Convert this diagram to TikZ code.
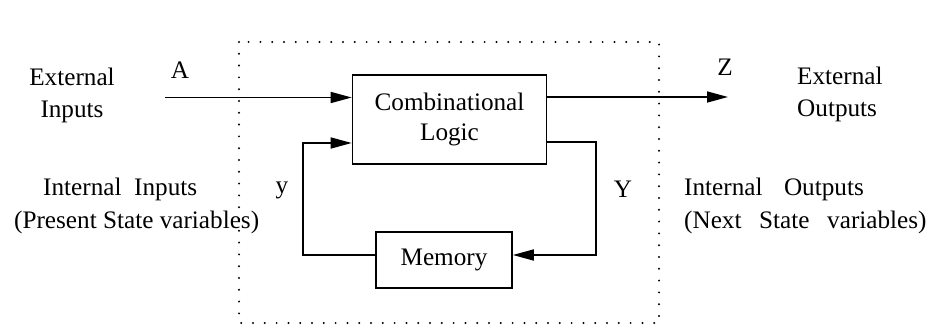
\documentclass[tikz,border=0pt]{standalone}
\usepackage{fontspec}
\setmainfont{Liberation Serif}
\usetikzlibrary{arrows.meta}
\begin{document}
\begin{tikzpicture}[x=1pt,y=-1pt,
  lbl/.style={inner sep=0pt, font=\fontsize{25.2}{32}\selectfont, align=center},
  blk/.style={draw, line width=1.6pt, inner sep=0pt, font=\fontsize{25.2}{30}\selectfont, align=center},
  wire/.style={line width=1.6pt},
  arr/.style={wire, -{Triangle[length=21pt,width=11pt]}},
  dotbox/.style={line width=2.2pt, line cap=round, dash pattern=on 0pt off 11.8pt}]
\useasboundingbox (0,0) rectangle (929,328);
% blocks
\node[blk, minimum width=194pt, minimum height=89pt] (cl) at (449.5,119.5) {Combinational\\Logic};
\node[blk, minimum width=136pt, minimum height=56pt] (mem) at (444,260) {Memory};
% dotted boundary
\coordinate (dtl) at (239,42);
\coordinate (dbr) at (659,323);
\draw[dotbox] (dtl) rectangle (dbr);
% external input / output
\coordinate (ain) at (165,97.5);
\coordinate (zout) at (728,97);
\draw[arr] (ain) -- (ain -| cl.west);
\draw[arr] (cl.east |- zout) -- (zout);
% feedback paths
\coordinate (yl) at (303,143);
\coordinate (ylow) at (303,255);
\coordinate (Yr) at (596,142);
\coordinate (Ylow) at (596,255);
\draw[arr] (mem.west |- ylow) -- (ylow) -- (yl) -- (yl -| cl.west);
\draw[arr] (cl.east |- Yr) -- (Yr) -- (Ylow) -- (Ylow -| mem.east);
% labels
\node[lbl] (extin) at (72,95) {External\\Inputs};
\node[lbl] (A) at (180,70) {A};
\node[lbl] (Z) at (725,67) {Z};
\node[lbl, anchor=west, align=left] (extout) at (797,94) {External\\Outputs};
\node[lbl, anchor=west] (intin) at (43,189) {Internal\hspace{0.5em}Inputs};
\node[lbl, anchor=west] (pres) at (14,222) {(Present State variables)};
\node[lbl] (ys) at (282,190) {y};
\node[lbl] (Ys) at (623,189) {Y};
\node[lbl, anchor=west] (intout) at (684,189) {Internal\hspace{0.85em}Outputs};
\node[lbl, anchor=west] (next) at (684,222) {(Next\hspace{0.45em} State\hspace{0.45em} variables)};
\end{tikzpicture}
\end{document}
